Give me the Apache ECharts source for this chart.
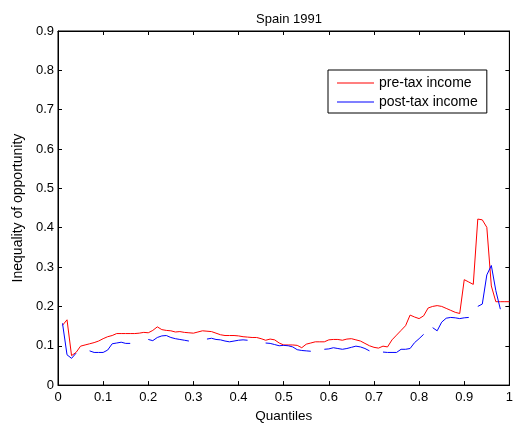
<!DOCTYPE html>
<html>
<head>
<meta charset="utf-8">
<script src="https://cdn.jsdelivr.net/npm/echarts@6/dist/echarts.min.js"></script>
<style>
  html, body { margin: 0; padding: 0; background: #fff; }
  #chart { width: 516px; height: 428px; }
</style>
</head>
<body>
<div id="chart"></div>
<script>
// Quantile grid (0.01 .. 1.00)
const quantiles = [
  0.01,0.02,0.03,0.04,0.05,0.06,0.07,0.08,0.09,0.10,
  0.11,0.12,0.13,0.14,0.15,0.16,0.17,0.18,0.19,0.20,
  0.21,0.22,0.23,0.24,0.25,0.26,0.27,0.28,0.29,0.30,
  0.31,0.32,0.33,0.34,0.35,0.36,0.37,0.38,0.39,0.40,
  0.41,0.42,0.43,0.44,0.45,0.46,0.47,0.48,0.49,0.50,
  0.51,0.52,0.53,0.54,0.55,0.56,0.57,0.58,0.59,0.60,
  0.61,0.62,0.63,0.64,0.65,0.66,0.67,0.68,0.69,0.70,
  0.71,0.72,0.73,0.74,0.75,0.76,0.77,0.78,0.79,0.80,
  0.81,0.82,0.83,0.84,0.85,0.86,0.87,0.88,0.89,0.90,
  0.91,0.92,0.93,0.94,0.95,0.96,0.97,0.98,0.99,1.00
];

// Inequality of opportunity, pre-tax income
const preTax = [
  0.152,0.166,0.075,0.083,0.099,0.102,0.105,0.108,0.112,0.118,
  0.123,0.126,0.131,0.131,0.131,0.131,0.131,0.132,0.134,0.133,
  0.139,0.148,0.141,0.139,0.138,0.135,0.136,0.134,0.133,0.132,
  0.135,0.138,0.137,0.136,0.132,0.128,0.126,0.126,0.126,0.125,
  0.123,0.122,0.121,0.121,0.118,0.114,0.117,0.115,0.107,0.102,
  0.102,0.102,0.101,0.095,0.104,0.107,0.110,0.110,0.110,0.115,
  0.116,0.116,0.114,0.117,0.118,0.115,0.112,0.106,0.100,0.096,
  0.094,0.099,0.097,0.115,0.127,0.139,0.151,0.178,0.173,0.169,
  0.176,0.196,0.200,0.202,0.200,0.195,0.190,0.185,0.182,0.268,
  0.262,0.256,0.422,0.420,0.401,0.252,0.212,0.212,0.212,0.212
];

// Inequality of opportunity, post-tax income (null = no estimate)
const postTax = [
  0.157,0.077,0.068,0.081,null,null,0.087,0.083,0.083,0.083,
  0.089,0.105,0.107,0.109,0.106,0.106,null,null,null,0.116,
  0.113,0.121,0.125,0.126,0.121,0.118,0.116,0.114,0.112,null,
  null,null,0.117,0.119,0.116,0.115,0.112,0.110,0.112,0.114,
  0.115,0.114,null,null,null,0.107,0.106,0.103,0.100,0.101,
  0.100,0.097,0.090,0.088,0.087,0.086,null,null,0.091,0.092,
  0.095,0.093,0.091,0.093,0.096,0.099,0.097,0.093,0.087,null,
  null,0.084,0.083,0.083,0.083,0.091,0.091,0.093,0.108,0.118,
  0.129,null,0.146,0.138,0.160,0.170,0.172,0.171,0.169,0.171,
  0.172,null,0.200,0.206,0.280,0.304,0.240,0.193,null,null
];

const xTicks = ['0','0.1','0.2','0.3','0.4','0.5','0.6','0.7','0.8','0.9','1'];
const yTicks = ['0','0.1','0.2','0.3','0.4','0.5','0.6','0.7','0.8','0.9'];

const FONT = 'Liberation Sans, Arial, sans-serif';
const pairs = vals => quantiles.map((q, i) => [q, vals[i]]);

const axisCommon = {
  axisLine: { show: true, onZero: false, lineStyle: { color: '#000', width: 1 } },
  axisTick: { show: true, inside: true, length: 4, lineStyle: { color: '#000' } },
  splitLine: { show: false }
};

// thin horizontal stroke used as legend key
const LINE_ICON = 'path://M0,0 L37,0 L37,1 L0,1 Z';

const chart = echarts.init(document.getElementById('chart'), null, { renderer: 'canvas' });
chart.setOption({
  animation: false,
  backgroundColor: '#fff',
  title: {
    text: 'Spain 1991',
    left: 284, top: 8, textAlign: 'center',
    textStyle: { fontFamily: FONT, fontSize: 13, fontWeight: 'normal', color: '#000' }
  },
  grid: { left: 58, top: 31, right: 6, bottom: 41, show: true, borderColor: '#000', borderWidth: 1 },
  legend: {
    orient: 'vertical', left: 328, top: 70,
    data: [
      { name: 'pre-tax income', icon: LINE_ICON },
      { name: 'post-tax income', icon: LINE_ICON }
    ],
    backgroundColor: '#fff', borderColor: '#000', borderWidth: 1,
    padding: [5, 9, 3, 9], itemGap: 3, itemWidth: 37, itemHeight: 1,
    textStyle: { fontFamily: FONT, fontSize: 14, lineHeight: 16, color: '#000' }
  },
  xAxis: [
    Object.assign({
      type: 'value', min: 0, max: 1, interval: 0.1,
      name: 'Quantiles', nameLocation: 'middle', nameGap: 20,
      nameTextStyle: { fontFamily: FONT, fontSize: 13.5, color: '#000' },
      axisLabel: { fontFamily: FONT, fontSize: 13, color: '#000', margin: 6,
        formatter: (v) => xTicks[Math.round(v * 10)] }
    }, axisCommon),
    Object.assign({
      type: 'value', min: 0, max: 1, interval: 0.1, position: 'top',
      axisLabel: { show: false }
    }, axisCommon)
  ],
  yAxis: [
    Object.assign({
      type: 'value', min: 0, max: 0.9, interval: 0.1,
      name: 'Inequality of opportunity', nameLocation: 'middle', nameGap: 30,
      nameTextStyle: { fontFamily: FONT, fontSize: 14, color: '#000' },
      axisLabel: { fontFamily: FONT, fontSize: 13, color: '#000', margin: 4,
        formatter: (v) => yTicks[Math.round(v * 10)] }
    }, axisCommon),
    Object.assign({
      type: 'value', min: 0, max: 0.9, interval: 0.1, position: 'right',
      axisLabel: { show: false }
    }, axisCommon)
  ],
  series: [
    {
      name: 'pre-tax income', type: 'line', xAxisIndex: 0, yAxisIndex: 0,
      data: pairs(preTax), symbol: 'none', connectNulls: false,
      lineStyle: { color: '#ff0000', width: 1 }, itemStyle: { color: '#ff0000' }
    },
    {
      name: 'post-tax income', type: 'line', xAxisIndex: 0, yAxisIndex: 0,
      data: pairs(postTax), symbol: 'none', connectNulls: false,
      lineStyle: { color: '#0000ff', width: 1 }, itemStyle: { color: '#0000ff' }
    }
  ]
});
</script>
</body>
</html>
